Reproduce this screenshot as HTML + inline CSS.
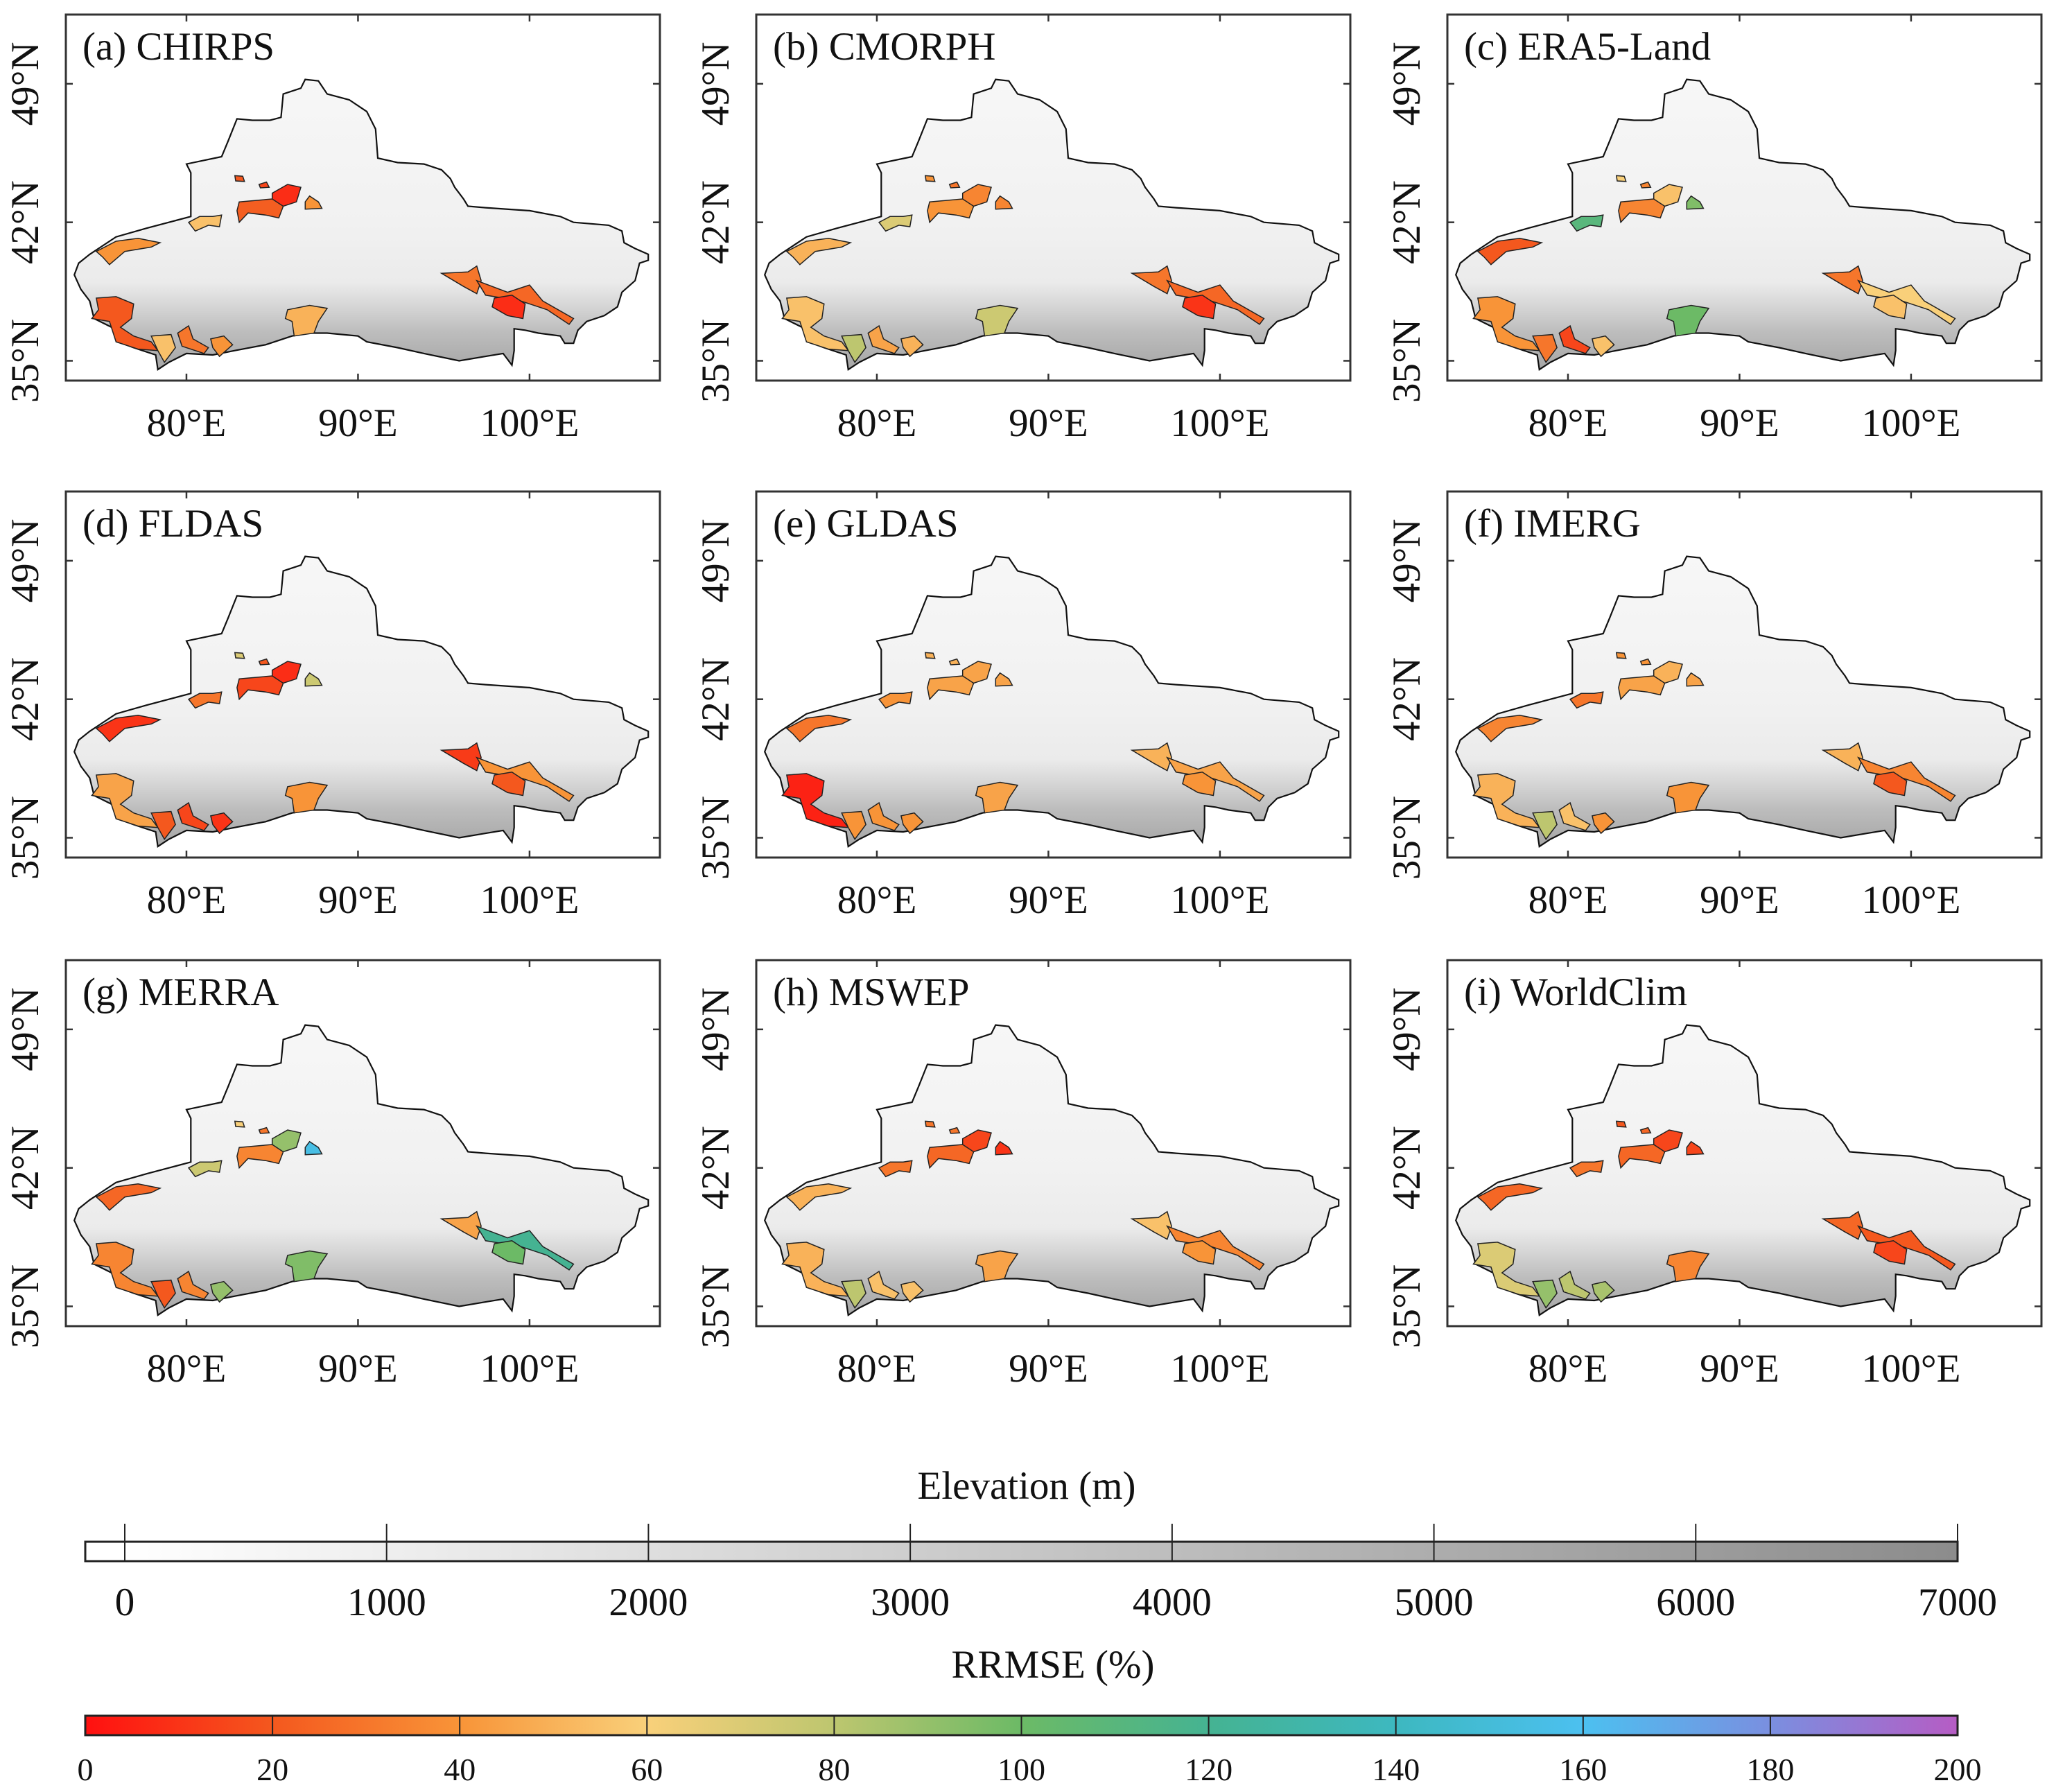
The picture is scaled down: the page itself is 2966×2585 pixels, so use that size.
<!DOCTYPE html>
<html><head><meta charset="utf-8"><style>
html,body{margin:0;padding:0;background:#fff;}
svg{display:block;font-family:"Liberation Serif",serif;}
text{font-family:"Liberation Serif",serif;}
</style></head><body>
<svg id="fig" width="2966" height="2585" viewBox="0 0 2966 2585" xmlns="http://www.w3.org/2000/svg" font-family="Liberation Serif, serif">
<defs>
<linearGradient id="elev" x1="0" y1="0" x2="0" y2="1">
<stop offset="0" stop-color="#f7f7f7"/><stop offset="0.5" stop-color="#f1f1f1"/><stop offset="0.7" stop-color="#ebebeb"/><stop offset="0.78" stop-color="#d6d6d6"/><stop offset="0.87" stop-color="#bdbdbd"/><stop offset="1" stop-color="#a6a6a6"/>
</linearGradient>
<linearGradient id="elevbar" x1="0" y1="0" x2="1" y2="0">
<stop offset="0" stop-color="#ffffff"/><stop offset="0.02" stop-color="#ffffff"/><stop offset="1" stop-color="#8c8c8c"/>
</linearGradient>
<linearGradient id="rbar" x1="0" y1="0" x2="1" y2="0">
<stop offset="0" stop-color="#ff1010"/><stop offset="0.1" stop-color="#f4581e"/><stop offset="0.2" stop-color="#f89438"/><stop offset="0.3" stop-color="#f9d07a"/><stop offset="0.4" stop-color="#bdc66f"/><stop offset="0.5" stop-color="#6cba66"/><stop offset="0.6" stop-color="#45b392"/><stop offset="0.7" stop-color="#3db8c0"/><stop offset="0.8" stop-color="#4cc0f0"/><stop offset="0.9" stop-color="#7a8fe0"/><stop offset="1" stop-color="#b65cc4"/>
</linearGradient>
</defs>
<g id="panels"></g>
<g id="legends"></g>
</svg>
<script>
const panelTitles = ['(a) CHIRPS','(b) CMORPH','(c) ERA5-Land','(d) FLDAS','(e) GLDAS','(f) IMERG','(g) MERRA','(h) MSWEP','(i) WorldClim'];
const lonTicks = [80, 90, 100];
const latTicks = [49, 42, 35];
// RRMSE (%) per basin (15 basins) for each product
const valsCHIRPS    = [20,15,8,22,40,55,40,20,55,30,40,50,30,25,8];
const valsCMORPH    = [40,30,35,40,35,70,50,55,80,45,50,75,30,25,10];
const valsERA5      = [60,35,55,35,95,110,20,40,30,15,55,100,30,60,55];
const valsFLDAS     = [70,20,8,15,75,30,10,45,20,15,10,40,12,40,20];
const valsGLDAS     = [50,50,45,45,45,40,30,5,40,40,40,45,50,45,40];
const valsIMERG     = [40,40,50,45,45,30,35,50,80,55,40,40,50,35,20];
const valsMERRA     = [60,30,90,35,155,75,25,35,20,35,90,95,45,120,100];
const valsMSWEP     = [30,30,15,25,10,30,50,50,80,55,55,45,55,35,40];
const valsWorldClim = [20,25,15,25,15,30,25,70,90,80,85,35,25,20,15];
const allVals = [valsCHIRPS,valsCMORPH,valsERA5,valsFLDAS,valsGLDAS,valsIMERG,valsMERRA,valsMSWEP,valsWorldClim];
const elevTicks = [0,1000,2000,3000,4000,5000,6000,7000];
const rrmseTicks = [0,20,40,60,80,100,120,140,160,180,200];

// geometry (reference sketch units)
const outlineRef = [[690,270],[720,275],[740,320],[790,340],[830,380],[850,440],[855,540],[900,555],[960,560],[1000,580],[1020,610],[1030,640],[1050,680],[1060,705],[1100,710],[1200,720],[1270,740],[1300,760],[1380,770],[1410,790],[1415,830],[1440,850],[1470,870],[1470,890],[1450,900],[1440,960],[1410,1000],[1400,1050],[1370,1080],[1330,1100],[1310,1130],[1300,1175],[1280,1175],[1270,1150],[1220,1140],[1190,1130],[1165,1125],[1165,1200],[1160,1250],[1140,1210],[1100,1220],[1040,1235],[960,1210],[900,1190],[830,1170],[810,1150],[740,1140],[700,1140],[660,1150],[600,1180],[530,1200],[480,1215],[420,1210],[380,1240],[355,1265],[350,1215],[300,1190],[265,1170],[250,1120],[210,1090],[200,1030],[180,990],[165,940],[175,900],[200,870],[220,850],[260,810],[330,780],[380,760],[430,740],[430,590],[420,560],[500,535],[515,480],[535,405],[570,410],[610,410],[635,400],[640,320],[680,300]];
const basinsRef = [
 [[530,600],[548,602],[552,620],[532,618]],
 [[585,630],[602,622],[608,640],[588,642]],
 [[615,660],[650,630],[680,640],[670,690],[640,705],[615,690]],
 [[540,690],[615,680],[640,705],[630,745],[600,735],[560,728],[540,760],[535,720]],
 [[690,690],[700,670],[720,690],[728,712],[690,715]],
 [[425,760],[450,740],[480,740],[500,735],[495,775],[470,770],[440,790]],
 [[215,860],[260,825],[310,815],[360,830],[340,845],[280,860],[245,905],[230,880]],
 [[215,1020],[260,1015],[300,1040],[295,1090],[270,1120],[300,1150],[340,1170],[355,1200],[310,1195],[260,1170],[245,1100],[205,1090],[220,1060]],
 [[340,1150],[385,1145],[395,1190],[370,1240],[355,1200]],
 [[400,1140],[425,1115],[435,1160],[470,1190],[460,1210],[410,1185]],
 [[475,1160],[505,1150],[525,1180],[495,1220],[480,1190]],
 [[650,1060],[700,1045],[740,1055],[720,1100],[710,1140],[665,1150],[660,1100],[645,1090]],
 [[1000,935],[1060,930],[1080,910],[1090,960],[1080,1005],[1050,980]],
 [[1080,960],[1150,1000],[1200,975],[1230,1030],[1300,1090],[1290,1110],[1240,1060],[1180,1030],[1100,1010]],
 [[1120,1020],[1160,1010],[1190,1040],[1185,1090],[1150,1080],[1115,1050]]
];
const cmapStops = ['#ff1010','#f4581e','#f89438','#f9d07a','#bdc66f','#6cba66','#45b392','#3db8c0','#4cc0f0','#7a8fe0','#b65cc4'];

function hex2rgb(h){return [1,3,5].map(i=>parseInt(h.substr(i,2),16));}
function cmap(v){
  v=Math.max(0,Math.min(200,v)); const t=v/20, i=Math.min(9,Math.floor(t)), f=t-i;
  const a=hex2rgb(cmapStops[i]), b=hex2rgb(cmapStops[i+1]);
  return 'rgb('+a.map((c,k)=>Math.round(c+(b[k]-c)*f)).join(',')+')';
}
function refToLL(p){return [80+(p[0]-420)/39, 42-(p[1]-760)/67.86];}
const NS='http://www.w3.org/2000/svg';
const FF='Liberation Serif, serif';
function mk(tag,attrs,parent){const e=document.createElementNS(NS,tag);for(const k in attrs)e.setAttribute(k,attrs[k]);parent.appendChild(e);return e;}

const colX=[95,1091,2088], rowY=[21,709,1385], PW=857, PH=528;
const lonMin=72.97, lonMax=107.6, latMin=34.0, latMax=52.5;
const panels=document.getElementById('panels');
panelTitles.forEach((title,pi)=>{
  const x0=colX[pi%3], y0=rowY[Math.floor(pi/3)];
  const xs=lon=>x0+(lon-lonMin)/(lonMax-lonMin)*PW;
  const ys=lat=>y0+(latMax-lat)/(latMax-latMin)*PH;
  const g=mk('g',{},panels);
  
  
  const pts=a=>a.map(p=>{const ll=refToLL(p);return xs(ll[0]).toFixed(1)+','+ys(ll[1]).toFixed(1);}).join(' ');
  const outline=mk('polygon',{points:pts(outlineRef),fill:'url(#elev)',stroke:'#111','stroke-width':2.2},g);
  
  
  basinsRef.forEach((b,bi)=>{
    const poly=mk('polygon',{points:pts(b),fill:cmap(allVals[pi][bi]),stroke:'#222','stroke-width':1.5},g);
    
    
  });
  const frame=mk('rect',{x:x0,y:y0,width:PW,height:PH,fill:'none',stroke:'#333','stroke-width':3},g);
  
  
  lonTicks.forEach(lon=>{
    const x=xs(lon);
    mk('line',{x1:x,y1:y0+PH,x2:x,y2:y0+PH-10,stroke:'#333','stroke-width':2.5},g);
    mk('line',{x1:x,y1:y0,x2:x,y2:y0+10,stroke:'#333','stroke-width':2.5},g);
    const t=mk('text',{x:x,y:y0+PH+80,'font-size':57,'text-anchor':'middle',fill:'#111','font-family':FF},g);
    t.textContent=lon+'°E';
    
    
  });
  latTicks.forEach(lat=>{
    const y=ys(lat);
    mk('line',{x1:x0,y1:y,x2:x0+10,y2:y,stroke:'#333','stroke-width':2.5},g);
    mk('line',{x1:x0+PW,y1:y,x2:x0+PW-10,y2:y,stroke:'#333','stroke-width':2.5},g);
    const cx=x0-40;
    const t=mk('text',{x:cx,y:y,'font-size':57,'text-anchor':'middle',transform:'rotate(-90 '+cx+' '+y+')',fill:'#111','font-family':FF},g);
    t.textContent=lat+'°N';
    
    
  });
  const tt=mk('text',{x:x0+24,y:y0+65,'font-size':57,fill:'#111','font-family':FF},g);
  tt.textContent=title;
  
  
});

// legends
const L=document.getElementById('legends');
const bx0=123, bx1=2824;
function legendTitle(txt,x,y,name){const t=mk('text',{x:x,y:y,'font-size':57,'text-anchor':'middle',fill:'#111','font-family':FF},L);t.textContent=txt;}
legendTitle('Elevation (m)',1481,2162,'elevation-legend-title');
const eb=mk('rect',{x:bx0,y:2224,width:bx1-bx0,height:28,fill:'url(#elevbar)',stroke:'#222','stroke-width':3},L);


const ex=v=>180+(v/7000)*(bx1-180);
elevTicks.forEach(v=>{
  const x=ex(v);
  mk('line',{x1:x,y1:2198,x2:x,y2:2252,stroke:'#222','stroke-width':2},L);
  const t=mk('text',{x:x,y:2330,'font-size':57,'text-anchor':'middle',fill:'#111','font-family':FF},L);
  t.textContent=v;
  
  
});
legendTitle('RRMSE (%)',1519,2420,'rrmse-legend-title');
const rb=mk('rect',{x:bx0,y:2475,width:bx1-bx0,height:28,fill:'url(#rbar)',stroke:'#222','stroke-width':3},L);


const rx=v=>bx0+(v/200)*(bx1-bx0);
rrmseTicks.forEach(v=>{
  const x=rx(v);
  mk('line',{x1:x,y1:2475,x2:x,y2:2503,stroke:'#222','stroke-width':2},L);
  const t=mk('text',{x:x,y:2568,'font-size':46,'text-anchor':'middle',fill:'#111','font-family':FF},L);
  t.textContent=v;
  
  
});
</script>
</body></html>
